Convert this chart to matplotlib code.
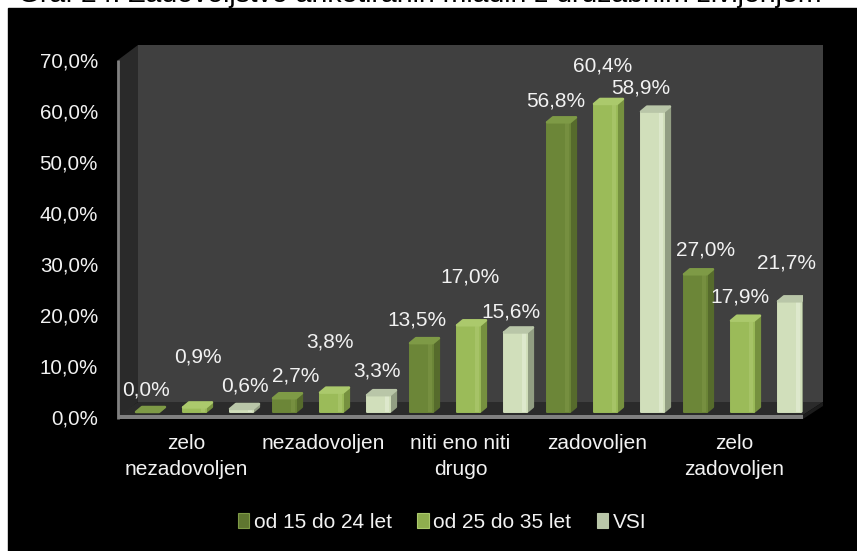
#!/usr/bin/env python
# -*- coding: utf-8 -*-
import numpy as np
import matplotlib
matplotlib.use('Agg')
import matplotlib.pyplot as plt
from matplotlib.patches import Patch, Rectangle

plt.rcParams['font.family'] = ['Liberation Sans', 'DejaVu Sans']

title = 'Graf 24: Zadovoljstvo anketiranih mladih z družabnim življenjem'
categories = ['zelo\nnezadovoljen', 'nezadovoljen', 'niti eno niti\ndrugo', 'zadovoljen', 'zelo\nzadovoljen']
series_names = ['od 15 do 24 let', 'od 25 do 35 let', 'VSI']
young = [0.0, 2.7, 13.5, 56.8, 27.0]
older = [0.9, 3.8, 17.0, 60.4, 17.9]
everyone = [0.6, 3.3, 15.6, 58.9, 21.7]
y_ticks = [0, 10, 20, 30, 40, 50, 60, 70]

# barve: sprednja, stranska, zgornja ploskev, odsev
face_colors = ['#6c8638', '#9bbb59', '#d1dfbb']
side_colors = ['#566b2c', '#76913f', '#929e83']
top_colors = ['#7e9a46', '#abc96c', '#b9c6a8']
shine_colors = ['#768f40', '#a6c367', '#dde8cc']
legend_colors = ['#5f7630', '#8fae4e', '#b9c6a8']

# zamiki oznak v pikslih, po skupinah
label_dx = [[-1.5, 3.5, 3.5], [11.5, -1.5, -1.5], [-4.5, 1.5, -4.5], [-2.5, -2.5, -11.5], [10.5, -2.5, -2.5]]
label_dy = [[22, 50, 23], [22, 51, 24], [23, 48, 20], [21, 38, 24], [24, 24, 38]]

W, H = 857, 551
LEFT, RIGHT, TOP, BOTTOM = 118, 803, 60, 417
px_x = 5 / (RIGHT - LEFT)
px_y = 70 / (BOTTOM - TOP)
text_col = '#f2f2f2'


def main():
    fig = plt.figure(figsize=(W / 100, H / 100), dpi=100, facecolor='white')
    fig.text(18 / W, 1 - 2 / H, title, fontsize=20.4, color='black', va='baseline', ha='left', zorder=-2)
    fig.add_artist(Rectangle((8 / W, 0), 1, 1 - 8 / H, transform=fig.transFigure, color='black', zorder=-1))

    ax = fig.add_axes([LEFT / W, 1 - BOTTOM / H, (RIGHT - LEFT) / W, (BOTTOM - TOP) / H])
    ax.patch.set_visible(False)
    ax.set_xlim(0, 5)
    ax.set_ylim(0, 70)

    # stene in tla
    wall_dx, wall_dy = 20 * px_x, 15 * px_y
    floor_y = 2 * px_y
    ax.fill([wall_dx, 5 + wall_dx, 5 + wall_dx, wall_dx], [wall_dy, wall_dy, 70 + wall_dy, 70 + wall_dy],
            color='#404040', lw=0, clip_on=False, zorder=1)
    ax.fill([0, wall_dx, wall_dx, 0], [0, wall_dy, 70 + wall_dy, 70], color='#2a2a2a', lw=0, clip_on=False, zorder=1)
    ax.fill([0, wall_dx, 5 + wall_dx, 5], [floor_y, wall_dy, wall_dy, floor_y], color='#2b2b2b', lw=0,
            clip_on=False, zorder=1)
    ax.fill([0, 5, 5, 0], [floor_y, floor_y, -floor_y, -floor_y], color='#808080', lw=0, clip_on=False, zorder=2)
    ax.fill([5, 5 + wall_dx, 5 + wall_dx, 5], [-floor_y, wall_dy - 2 * floor_y, wall_dy, floor_y], color='#1c1c1c',
            lw=0, clip_on=False, zorder=2)
    ax.plot([0, 0], [-floor_y, 70], color='#808080', lw=2, clip_on=False, zorder=2, solid_capstyle='butt')

    # stolpci
    base = 5 * px_y
    bar_w = 23 * px_x
    pitch = 47 * px_x
    shift = 8 * px_x
    depth_x, depth_y = 6 * px_x, 5 * px_y
    xs = np.arange(5) + 0.5
    for i, vals in enumerate([young, older, everyone]):
        centers = xs + (i - 1) * pitch + shift
        bars = ax.bar(centers, vals, bar_w, bottom=base, color=face_colors[i], edgecolor=face_colors[i], lw=1.4,
                      joinstyle='round', zorder=4)
        ax.bar(centers + bar_w * 0.38, vals, bar_w * 0.16, bottom=base, color=shine_colors[i], lw=0, zorder=5)
        for g, rect in enumerate(bars):
            x0, x1 = rect.get_x(), rect.get_x() + rect.get_width()
            y0, y1 = rect.get_y(), rect.get_y() + rect.get_height()
            ax.fill([x1, x1 + depth_x, x1 + depth_x, x1], [y0, y0 + depth_y, y1 + depth_y, y1],
                    facecolor=side_colors[i], edgecolor=side_colors[i], lw=1.6, joinstyle='round', zorder=3)
            ax.fill([x0, x1, x1 + depth_x, x0 + depth_x], [y1, y1, y1 + depth_y, y1 + depth_y],
                    facecolor=top_colors[i], edgecolor=top_colors[i], lw=1.8, joinstyle='round', zorder=6)
            ax.annotate(f'{vals[g]:.1f}%'.replace('.', ','), ((x0 + x1) / 2, y1),
                        xytext=(label_dx[g][i], label_dy[g][i]), textcoords='offset pixels',
                        ha='center', va='center', color=text_col, fontsize=15, zorder=7, annotation_clip=False)

    # osi
    for s in ax.spines.values():
        s.set_visible(False)
    ax.set_yticks(y_ticks)
    ax.set_yticklabels([f'{v:.1f}%'.replace('.', ',') for v in y_ticks], fontsize=14.8, color=text_col)
    ax.set_xticks(xs)
    ax.set_xticklabels(categories, fontsize=15, color=text_col, linespacing=1.42)
    ax.tick_params(axis='y', length=0, pad=14.4)
    ax.tick_params(axis='x', length=0, pad=12.5)

    handles = [Patch(facecolor=c, edgecolor=e, lw=0.8) for c, e in zip(legend_colors, top_colors)]
    fig.legend(handles, series_names, loc='center', bbox_to_anchor=(442 / W, 1 - 522 / H), ncol=3, frameon=False,
               fontsize=15, labelcolor=text_col, handlelength=0.55, handleheight=0.7, handletextpad=0.22,
               columnspacing=1.22)

    plt.savefig('out.png', dpi=100, facecolor=fig.get_facecolor())


if __name__ == '__main__':
    main()
